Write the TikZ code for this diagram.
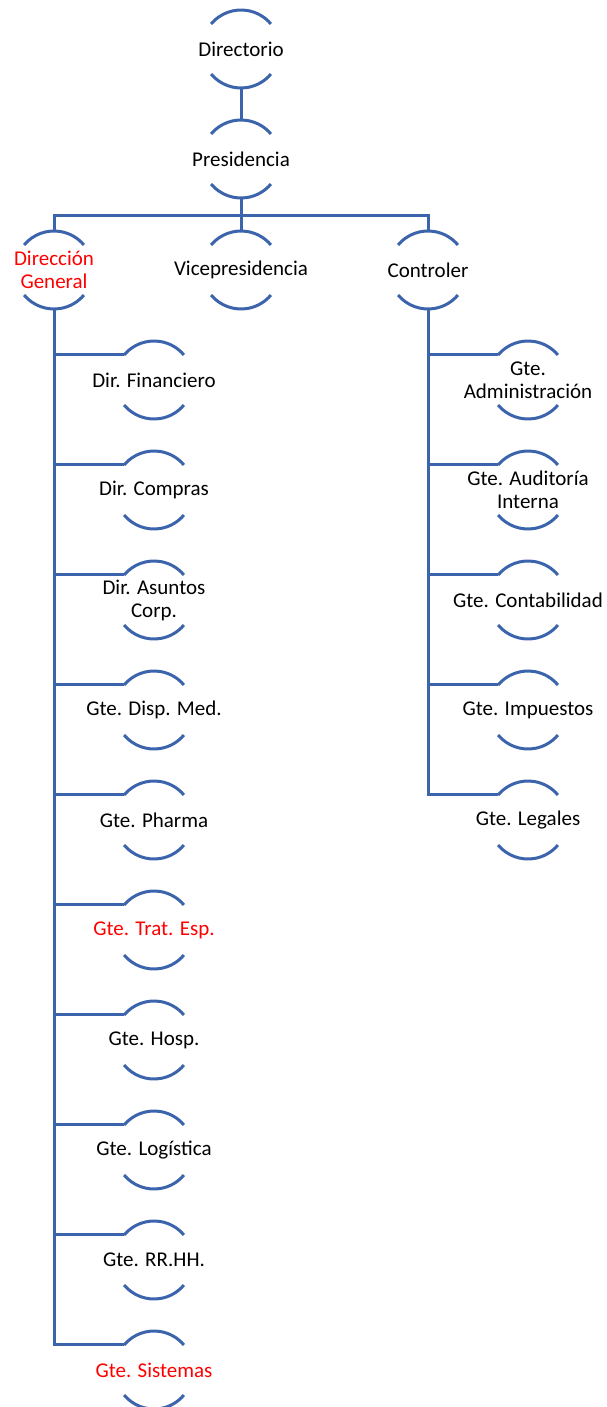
\documentclass[tikz,border=0pt]{standalone}
\usepackage{fontspec}
\setmainfont{Carlito}
\definecolor{lineblue}{RGB}{60,100,172}
\definecolor{textred}{RGB}{255,0,0}
\tikzset{
  capnode/.style={circle, minimum size=78pt, inner sep=0pt, outer sep=0pt, draw=none},
  txt/.style={align=center, inner sep=0pt, font=\fontsize{21pt}{23pt}\selectfont, text=black},
  redtxt/.style={txt, text=textred},
  conn/.style={draw=lineblue, line width=3pt},
  arcs/.style={draw=lineblue, line width=3pt}
}
\begin{document}
\begin{tikzpicture}[x=1pt,y=-1pt]
\useasboundingbox (0,0) rectangle (606,1407);
% top levels
\node[capnode] (dir) at (241,49) {};
\node[txt] at (dir) {Directorio};
\node[capnode] (pre) at (241,159) {};
\node[txt] at (pre) {Presidencia};
\node[capnode] (dg) at (54,270) {};
\node[redtxt] at (dg) {Dirección\\General};
\node[capnode] (vp) at (241,270) {};
\node[txt] at (vp) {Vicepresidencia};
\node[capnode] (ctl) at (428,270) {};
\node[txt] at (ctl) {Controler};
% left children
\node[capnode] (l1) at (154,380) {};
\node[txt] at (l1) {Dir. Financiero};
\node[capnode] (l2) at (154,490) {};
\node[txt] at (l2) {Dir. Compras};
\node[capnode] (l3) at (154,600) {};
\node[txt] at (l3) {Dir. Asuntos\\Corp.};
\node[capnode] (l4) at (154,710) {};
\node[txt] at (l4) {Gte. Disp. Med.};
\node[capnode] (l5) at (154,820) {};
\node[txt] at (l5) {Gte. Pharma};
\node[capnode] (l6) at (154,930) {};
\node[redtxt] at (l6) {Gte. Trat. Esp.};
\node[capnode] (l7) at (154,1040) {};
\node[txt] at (l7) {Gte. Hosp.};
\node[capnode] (l8) at (154,1150) {};
\node[txt] at (l8) {Gte. Logística};
\node[capnode] (l9) at (154,1260) {};
\node[txt] at (l9) {Gte. RR.HH.};
\node[capnode] (l10) at (154,1370) {};
\node[redtxt] at (l10) {Gte. Sistemas};
% right children
\node[capnode] (r1) at (528,380) {};
\node[txt] at (r1) {Gte.\\Administración};
\node[capnode] (r2) at (528,490) {};
\node[txt] at (r2) {Gte. Auditoría\\Interna};
\node[capnode] (r3) at (528,600) {};
\node[txt] at (r3) {Gte. Contabilidad};
\node[capnode] (r4) at (528,710) {};
\node[txt] at (r4) {Gte. Impuestos};
\node[capnode] (r5) at (528,820) {};
\node[txt] at (r5) {Gte. Legales};
% arcs (y axis points down, so angles are mirrored)
\foreach \n in {dir,pre,dg,vp,ctl,l1,l2,l3,l4,l5,l6,l7,l8,l9,l10,r1,r2,r3,r4,r5}{
  \draw[arcs] (\n.140) arc[start angle=220, end angle=320, radius=39];
  \draw[arcs] (\n.220) arc[start angle=140, end angle=40, radius=39];
}
% connectors
\coordinate (bus) at (241,215);
\draw[conn] (dir.south) -- (pre.north);
\draw[conn] (pre.south) -- (vp.north);
\draw[conn] (dg.north) |- (bus) -| (ctl.north);
\foreach \c in {l1,l2,l3,l4,l5,l6,l7,l8,l9,l10}{
  \draw[conn] (dg.south) |- (\c.140);
}
\foreach \c in {r1,r2,r3,r4,r5}{
  \draw[conn] (ctl.south) |- (\c.140);
}
\end{tikzpicture}
\end{document}
